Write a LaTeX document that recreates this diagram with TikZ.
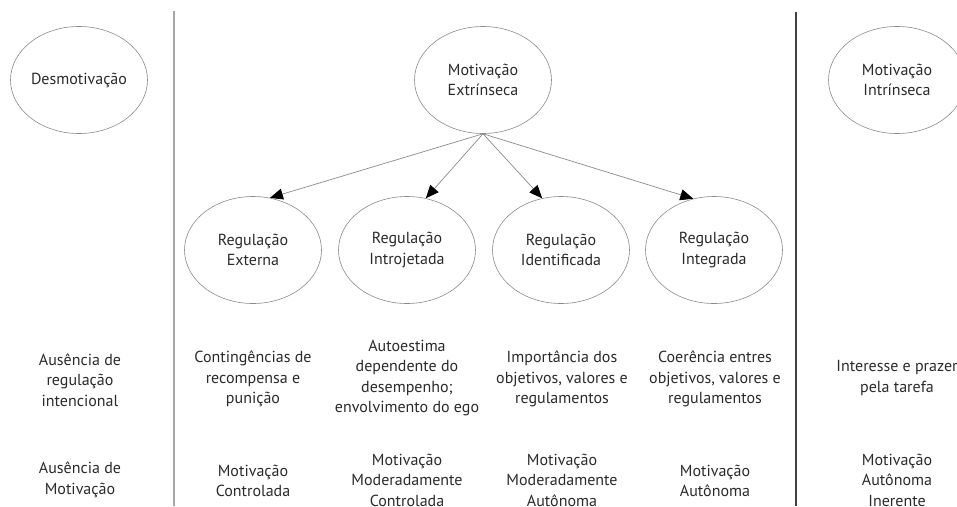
\documentclass[tikz,border=0pt]{standalone}
\usepackage{fontspec}
\setmainfont{PT Sans}
\usepackage{xcolor}
\usepackage{tikz}
\usetikzlibrary{arrows.meta}
\usetikzlibrary{shapes.geometric}
\definecolor{tinta}{HTML}{2A2A2A}
\definecolor{contorno}{HTML}{8A8A8A}
\tikzset{
 elipse/.style={ellipse, draw=contorno, line width=0.6pt, minimum width=137pt, minimum height=107pt, inner sep=0pt, align=center, text=tinta},
 texto/.style={align=center, text=tinta, inner sep=0pt},
 seta/.style={-{Triangle[length=13pt,width=11pt,color=black]}, draw=contorno, line width=0.7pt}
}
\begin{document}
\begin{tikzpicture}[x=1pt, y=-1pt, font=\fontsize{16}{20.5}\selectfont]
 \useasboundingbox (0, 0) rectangle (957, 506);
 \clip (0, 0) rectangle (957, 506);
 \draw [draw=black!35, line width=2pt] (174, 11) -- (174, 506);
 \draw [draw=black!75, line width=1.5pt] (796, 12) -- (796, 506);
 \node [elipse] (desm) at (79, 80) {Desmotivação};
 \node [elipse] (ext) at (483, 80) {Motivação\\Extrínseca};
 \node [elipse] (intr) at (897, 80) {Motivação\\Intrínseca};
 \node [elipse] (rext) at (253, 250) {Regulação\\Externa};
 \node [elipse] (rint) at (407, 250) {Regulação\\Introjetada};
 \node [elipse] (rid) at (561, 250) {Regulação\\Identificada};
 \node [elipse] (rin) at (714, 250) {Regulação\\Integrada};
 \draw [seta] (ext.south) -- (rext.72);
 \draw [seta] (ext.south) -- (rint.70);
 \draw [seta] (ext.south) -- (rid.110);
 \draw [seta] (ext.south) -- (rin.112);
 \node [texto] (d1) at (80, 380) {Ausência de\\regulação\\intencional};
 \node [texto] (d2) at (253, 379) {Contingências de\\recompensa e\\punição};
 \node [texto] (d3) at (407, 378) {Autoestima\\dependente do\\desempenho;\\envolvimento do ego};
 \node [texto] (d4) at (562, 379) {Importância dos\\objetivos, valores e\\regulamentos};
 \node [texto] (d5) at (715, 379) {Coerência entres\\objetivos, valores e\\regulamentos};
 \node [texto] (d6) at (897, 378) {Interesse e prazer\\pela tarefa};
 \node [texto] (m1) at (80, 480) {Ausência de\\Motivação};
 \node [texto] (m2) at (253, 481) {Motivação\\Controlada};
 \node [texto] (m3) at (407, 480) {Motivação\\Moderadamente\\Controlada};
 \node [texto] (m4) at (562, 480) {Motivação\\Moderadamente\\Autônoma};
 \node [texto] (m5) at (715, 481) {Motivação\\Autônoma};
 \node [texto] (m6) at (897, 480) {Motivação\\Autônoma\\Inerente};
\end{tikzpicture}
\end{document}
